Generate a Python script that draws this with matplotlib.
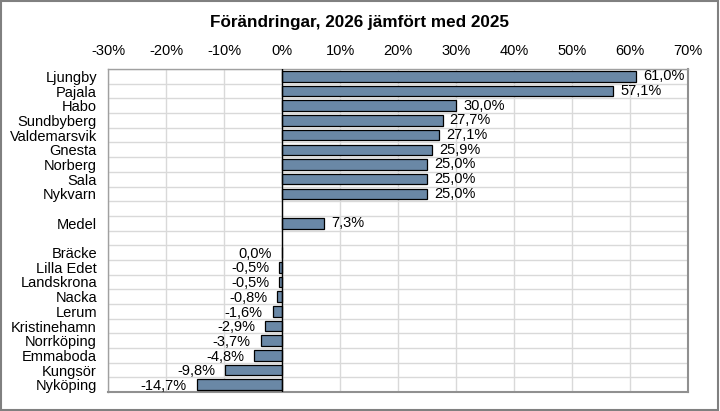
import numpy as np
import matplotlib
matplotlib.use("Agg")
from matplotlib import pyplot as plt
from matplotlib.patches import Rectangle

plt.rcParams['font.family'] = ['Liberation Sans', 'DejaVu Sans']

# data (None = empty row)
kommuner = ["Ljungby", "Pajala", "Habo", "Sundbyberg", "Valdemarsvik", "Gnesta",
            "Norberg", "Sala", "Nykvarn", "", "Medel", "",
            "Bräcke", "Lilla Edet", "Landskrona", "Nacka", "Lerum", "Kristinehamn",
            "Norrköping", "Emmaboda", "Kungsör", "Nyköping"]
andring = [61.0, 57.1, 30.0, 27.7, 27.1, 25.9, 25.0, 25.0, 25.0, None, 7.3, None,
           0.0, -0.5, -0.5, -0.8, -1.6, -2.9, -3.7, -4.8, -9.8, -14.7]
xticks = [-30, -20, -10, 0, 10, 20, 30, 40, 50, 60, 70]

fig = plt.figure(figsize=(7.2, 4.11), dpi=100)
ax = fig.add_axes([0.15, 0.046, 0.8056, 0.786])

n = len(kommuner)
y = np.arange(n)
for i, v in enumerate(andring):
    if v is None:
        continue
    ax.barh(i, v, height=0.72, color="#6A88A6", edgecolor="black", linewidth=0.9, zorder=3)
    txt = f"{v:.1f}%".replace(".", ",")
    if v > 0:
        ax.text(v + 1.2, i, txt, va="center", ha="left", fontsize=10.5, zorder=4)
    else:
        ax.text(v - 1.7, i + 0.08, txt, va="center", ha="right", fontsize=10.5, zorder=4)

ax.set_xlim(-30, 70)
ax.set_ylim(n - 0.5, -0.5)
ax.set_yticks(y)
ax.set_yticklabels(kommuner, fontsize=10.5)
ax.set_xticks(xticks)
ax.set_xticklabels([f"{t}%" for t in xticks], fontsize=10.5)
ax.xaxis.tick_top()
ax.tick_params(axis="y", length=0, pad=8)
ax.tick_params(axis="x", length=0, pad=8)

# grid
for t in xticks:
    ax.axvline(t, color="#D9D9D9", linewidth=1, zorder=1)
for b in np.arange(-0.5, n, 1):
    ax.axhline(b, color="#D9D9D9", linewidth=1, zorder=1)
ax.axvline(0, color="black", linewidth=1, zorder=5)

for s in ax.spines.values():
    s.set_color("#A0A0A0")
    s.set_linewidth(1)
ax.spines["right"].set_color("#909090")
ax.spines["right"].set_linewidth(1.5)
ax.spines["bottom"].set_color("#909090")
ax.spines["bottom"].set_linewidth(1.5)

fig.text(0.5, 0.946, "Förändringar, 2026 jämfört med 2025", fontsize=12.3,
         fontweight="bold", ha="center", va="center")

fig.patches.append(Rectangle((0.002, 0.003), 0.995, 0.994, transform=fig.transFigure,
                             fill=False, edgecolor="#808080", linewidth=1.5))

fig.savefig("out.png", dpi=100)
